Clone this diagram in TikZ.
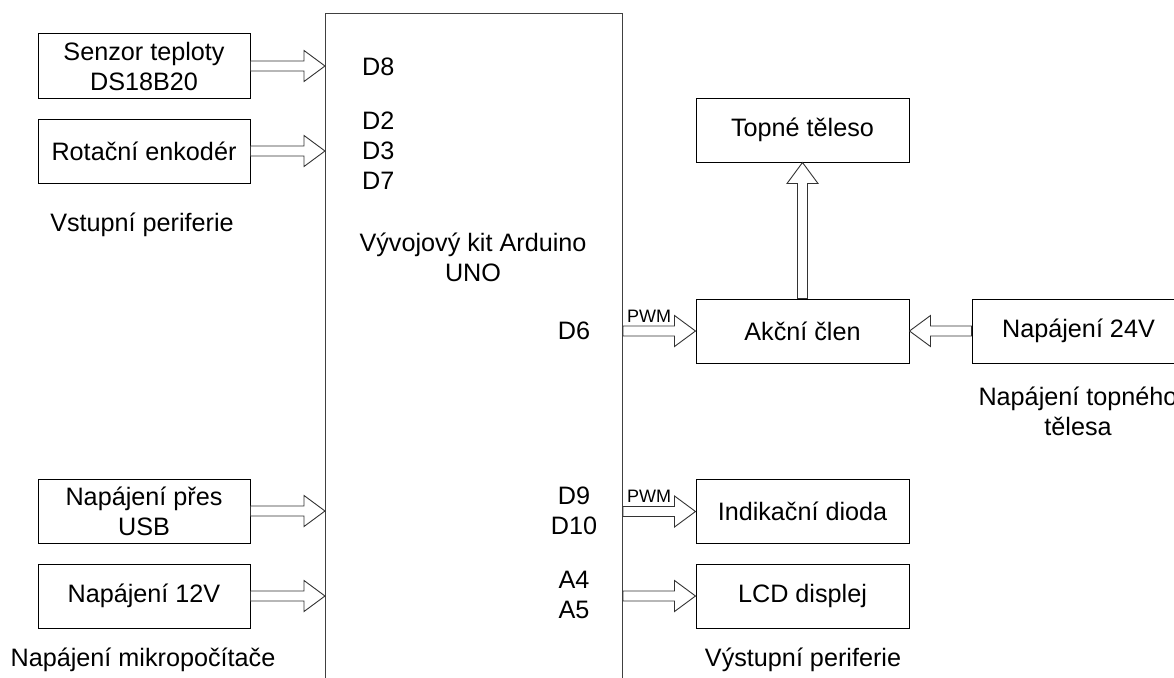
\documentclass[tikz,border=0pt]{standalone}
\usepackage{fontspec}
\setmainfont{Liberation Sans}
\usetikzlibrary{calc}
\tikzset{
  box/.style={draw=black, line width=1pt, minimum width=212pt, minimum height=64pt, inner sep=0pt, align=center, font=\fontsize{25.2}{30}\selectfont},
  txt/.style={inner sep=0pt, align=center, font=\fontsize{25.2}{30}\selectfont},
  pwm/.style={inner sep=0pt, font=\fontsize{18}{20}\selectfont},
  fatarr/.style={draw=black!80, fill=white, line width=0.9pt, line join=miter},
}
\newcommand\fatarrow[2]{%
  \draw[fatarr] let \p1=(#1), \p2=(#2),
      \n1={veclen(\x2-\x1,\y2-\y1)}, \n2={atan2(\y2-\y1,\x2-\x1)} in
    [shift={(\p1)}, rotate=\n2]
    (0pt,5pt) -- ({\n1-21pt},5pt) -- ({\n1-21pt},15.5pt) -- (\n1,0pt)
    -- ({\n1-21pt},-15.5pt) -- ({\n1-21pt},-5pt) -- (0pt,-5pt) -- cycle;}
\begin{document}
\begin{tikzpicture}[x=1pt,y=-1pt]
\useasboundingbox (0,0) rectangle (1174,677);
\clip (0,0) rectangle (1174,677);
\fill[white] (0,0) rectangle (1174,677);
% Arduino board
\node[draw=black!75, line width=1pt, minimum width=297pt, minimum height=720pt, inner sep=0pt, anchor=north west] (ard) at (325,13) {};
\node[txt] (ardt) at (473,257) {Vývojový kit Arduino\\UNO};
% pins
\node[txt, anchor=west] (p8) at (362,67) {D8};
\node[txt, anchor=west, align=left] (p237) at (362,151) {D2\\D3\\D7};
\node[txt] (p6) at (574,331) {D6};
\node[txt] (p910) at (574,511) {D9\\D10};
\node[txt] (pa45) at (574,595) {A4\\A5};
% left column
\node[box] (senz) at (144,66) {Senzor teploty\\DS18B20};
\node[box] (rot) at (144,151) {Rotační enkodér};
\node[box] (usb) at (144,511) {Napájení přes\\USB};
\node[box] (p12) at (144,596) {Napájení 12V};
% right column
\node[box, minimum width=213pt] (top) at (802.5,130) {Topné těleso};
\node[box, minimum width=213pt] (akc) at (802.5,331) {Akční člen};
\node[box, minimum width=213pt] (ind) at (802.5,511.5) {Indikační dioda};
\node[box, minimum width=213pt] (lcd) at (802.5,596) {LCD displej};
\node[box, minimum width=213pt] (p24) at (1078.5,331) {Napájení 24V};
% captions
\node[txt] (cin) at (142,225) {Vstupní periferie};
\node[txt] (cpw) at (143,660) {Napájení mikropočítače};
\node[txt] (cout) at (803,660) {Výstupní periferie};
\node[txt] (ctop) at (1078,411) {Napájení topného\\tělesa};
% arrows
\fatarrow{senz.east}{senz.east -| ard.west}
\fatarrow{rot.east}{rot.east -| ard.west}
\fatarrow{usb.east}{usb.east -| ard.west}
\fatarrow{p12.east}{p12.east -| ard.west}
\fatarrow{akc.west -| ard.east}{akc.west}
\fatarrow{ind.west -| ard.east}{ind.west}
\fatarrow{lcd.west -| ard.east}{lcd.west}
\fatarrow{p24.west}{akc.east}
\fatarrow{akc.north}{top.south}
% PWM labels
\node[pwm, anchor=base west] (pwm1) at ($(akc.west -| ard.east)+(4pt,9pt)$) {PWM};
\node[pwm, anchor=base west] (pwm2) at ($(ind.west -| ard.east)+(4pt,9pt)$) {PWM};
\end{tikzpicture}
\end{document}
